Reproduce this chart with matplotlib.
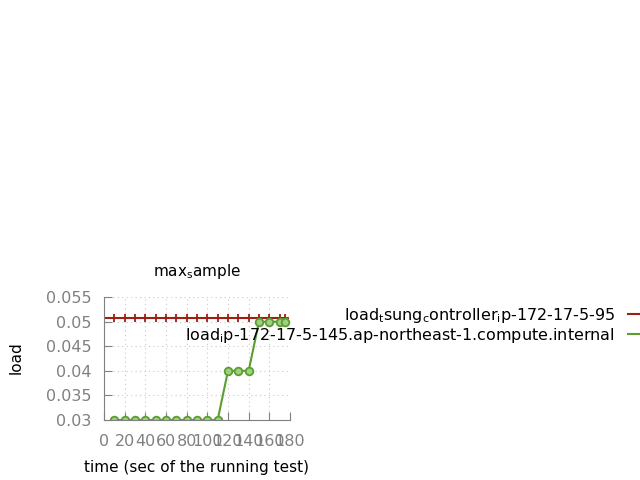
import matplotlib
matplotlib.use("Agg")
import matplotlib.pyplot as plt
from matplotlib.lines import Line2D

# values
ctrl_time = [0, 10, 20, 30, 40, 50, 60, 70, 80, 90, 100, 110, 120, 130, 140, 150, 160, 170, 175]
ctrl_load = [0.0507] * len(ctrl_time)

node_time = [10, 20, 30, 40, 50, 60, 70, 80, 90, 100, 110, 120, 130, 140, 150, 160, 170, 175]
node_load = [0.03] * 11 + [0.04] * 3 + [0.05] * 4

ctrl_label = "load$_t$sung$_c$ontroller$_i$p-172-17-5-95"
node_label = "load$_i$p-172-17-5-145.ap-northeast-1.compute.internal"

RED = "#9e1f14"
GREEN = "#5a9e32"
GRAY = "#808080"

plt.rcParams.update({"font.size": 11, "mathtext.default": "regular"})

fig = plt.figure(figsize=(6.4, 4.8), dpi=100)
ax = fig.add_axes([0.1625, 0.125, 0.2906, 0.256])

ax.plot(ctrl_time, ctrl_load, color=RED, linewidth=1.5, marker="+",
        markersize=6, markeredgewidth=1.3)
ax.plot(node_time, node_load, color=GREEN, linewidth=1.5, marker="o",
        markersize=5.5, markerfacecolor="#9fcf80", markeredgecolor=GREEN,
        markeredgewidth=1.3)

ax.set_xlim(0, 180)
ax.set_ylim(0.03, 0.055)
ax.set_xticks(range(0, 181, 20))
ax.set_yticks([0.03, 0.035, 0.04, 0.045, 0.05, 0.055])
ax.set_yticklabels(["0.03", "0.035", "0.04", "0.045", "0.05", "0.055"])

ax.tick_params(direction="in", length=6, color=GRAY, labelcolor=GRAY,
               labelsize=11.5, pad=9)
ax.tick_params(axis="x", pad=10)
ax.grid(True, color="#c8c8c8", linestyle=(0, (1, 3)), linewidth=0.8)
for side in ["top", "right"]:
    ax.spines[side].set_visible(False)
for side in ["left", "bottom"]:
    ax.spines[side].set_color(GRAY)

ax.set_title("max$_s$ample", fontsize=11, pad=15)
ax.set_xlabel("time (sec of the running test)", fontsize=11, labelpad=8)
fig.text(0.025, 0.255, "load", rotation=90, ha="center", va="center", fontsize=11)

handles = [Line2D([], [], color=RED, linewidth=1.5),
           Line2D([], [], color=GREEN, linewidth=1.5)]
fig.legend(handles, [ctrl_label, node_label], loc="upper right",
           bbox_to_anchor=(1.046, 0.376), frameon=False,
           markerfirst=False, handlelength=2.2, handletextpad=0.8,
           labelspacing=0.05, fontsize=11.5, borderaxespad=0)

fig.savefig("out.png", dpi=100)
